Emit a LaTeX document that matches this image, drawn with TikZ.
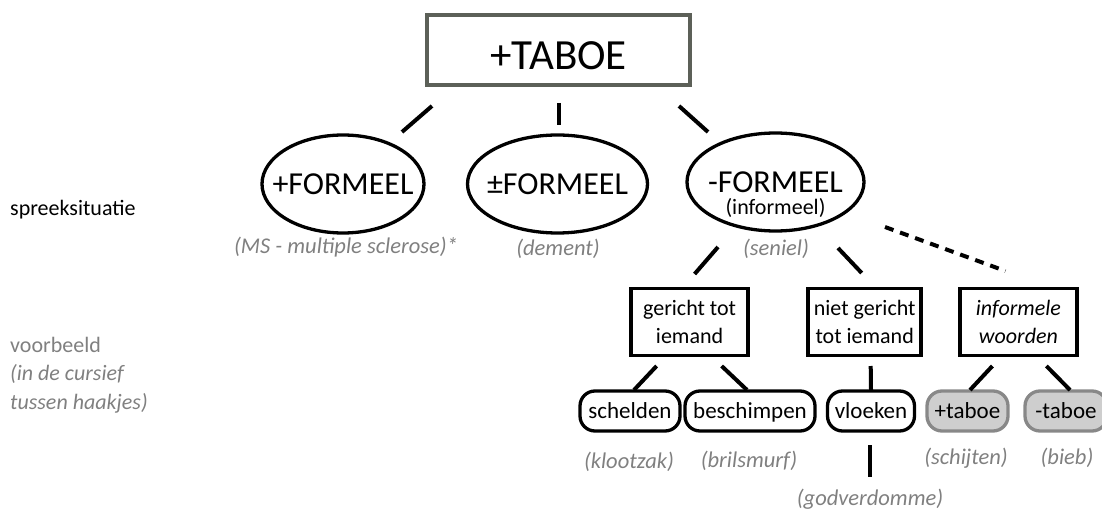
\documentclass[tikz,border=0pt]{standalone}
\usepackage{fontspec}
\setmainfont{Carlito}
\usetikzlibrary{shapes.geometric,calc}

\definecolor{labelgrey}{RGB}{128,128,128}
\definecolor{headframe}{RGB}{92,96,88}
\definecolor{pillgrey}{RGB}{136,136,136}
\definecolor{pillfill}{RGB}{206,206,206}

% centred text that takes no width, so an oval keeps its own size
\newcommand{\ovaltext}[1]{\makebox[0pt][c]{#1}}

\begin{document}
\begin{tikzpicture}[x=1pt,y=-1pt,
  headbox/.style={draw=headframe,line width=3.5pt,minimum width=263pt,minimum height=70pt,
    inner sep=0pt,text height=39.7pt,text depth=0pt,font=\fontsize{43}{50}\selectfont},
  oval/.style={draw,ellipse,line width=3.3pt,minimum height=98pt,inner sep=0pt,
    font=\fontsize{32}{38}\selectfont},
  catbox/.style={draw,line width=3.8pt,minimum height=67pt,inner sep=0pt,align=center,
    font=\fontsize{22}{28.5}\selectfont},
  pill/.style={draw,line width=3.3pt,rounded corners=15pt,minimum height=40pt,inner sep=0pt,
    text height=18pt,text depth=4pt,font=\fontsize{23}{27}\selectfont},
  greypill/.style={pill,draw=pillgrey,fill=pillfill},
  example/.style={anchor=base,text=labelgrey,inner sep=0pt,
    font=\fontsize{22.5}{28}\selectfont\itshape},
  sidelabel/.style={inner sep=0pt,font=\fontsize{22}{28.7}\selectfont},
  spoke/.style={line width=4pt},
  dashspoke/.style={line width=4pt,dash pattern=on 9pt off 7pt}]

\useasboundingbox (0,0) rectangle (1102,510);

% row labels on the left
\node[sidelabel,anchor=base west] (sit) at (10,216) {spreeksituatie};
\node[sidelabel,anchor=west,align=left,text=labelgrey] (vb) at (10,375)
  {voorbeeld\\\itshape (in de cursief\\\itshape tussen haakjes)};

% top of the tree
\node[headbox] (taboe) at (558.5,50) {+TABOE};

% speech situations
\node[oval,minimum width=162pt] (plus) at (343,184) {\ovaltext{+FORMEEL}};
\node[oval,minimum width=180pt] (pm) at (557.5,184) {\ovaltext{±FORMEEL}};
\node[oval,minimum width=177pt] (minus) at (775.5,182) {\ovaltext{-FORMEEL}};
\node[anchor=base,inner sep=0pt,font=\fontsize{22}{26}\selectfont] (inf) at (775.5,215) {(informeel)};

\node[example] (ms) at (346,254) {(MS - multiple sclerose)*};
\node[example] (dement) at (558,256) {(dement)};
\node[example] (seniel) at (776,256) {(seniel)};

% kinds of informal use
\node[catbox,minimum width=117pt] (gericht) at (689.6,322) {gericht tot\\iemand};
\node[catbox,minimum width=113pt] (niet) at (864.7,322) {niet gericht\\tot iemand};
\node[catbox,minimum width=117pt,font=\fontsize{22}{28.5}\selectfont\itshape] (informele) at (1018.4,322) {informele\\woorden};

% leaves
\node[pill,minimum width=100pt] (schelden) at (630,411) {schelden};
\node[pill,minimum width=130pt] (beschimpen) at (750,411) {beschimpen};
\node[pill,minimum width=87pt] (vloeken) at (871,411) {vloeken};
\node[greypill,minimum width=81pt] (ptaboe) at (967.5,411) {+taboe};
\node[greypill,minimum width=82pt] (mtaboe) at (1066,411) {-taboe};

\node[example] (klootzak) at (629,468) {(klootzak)};
\node[example] (brilsmurf) at (749,467) {(brilsmurf)};
\node[example] (schijten) at (966,464) {(schijten)};
\node[example] (bieb) at (1067,464) {(bieb)};
\node[example] (godv) at (870,505) {(godverdomme)};

% short spokes between the levels
\draw[spoke] ($(taboe)+(-126.5,56)$) -- ($(plus)+(59,-52)$);
\draw[spoke] ($(taboe)+(0.5,53)$) -- ($(pm)+(1.5,-59)$);
\draw[spoke] ($(taboe)+(120.5,56)$) -- ($(minus)+(-67.5,-50)$);

\draw[spoke] ($(minus)+(-57.5,65)$) -- ($(gericht)+(5,-48)$);
\draw[spoke] ($(minus)+(62.5,66)$) -- ($(niet)+(-3,-49)$);
\draw[dashspoke] ($(minus)+(109.5,45)$) -- ($(informele)+(-13,-51)$);

\draw[spoke] ($(gericht)+(-33,44)$) -- ($(schelden)+(4,-21)$);
\draw[spoke] ($(gericht)+(32,44)$) -- ($(beschimpen)+(-3,-21)$);
\draw[spoke] ($(niet)+(6,44)$) -- ($(vloeken)+(0,-21)$);
\draw[spoke] ($(informele)+(-26,44)$) -- ($(ptaboe)+(2.5,-21)$);
\draw[spoke] ($(informele)+(28,44)$) -- ($(mtaboe)+(4,-21)$);

\draw[spoke] ($(vloeken)+(-1,34)$) -- ($(godv.north)+(0,-11)$);
\end{tikzpicture}
\end{document}
